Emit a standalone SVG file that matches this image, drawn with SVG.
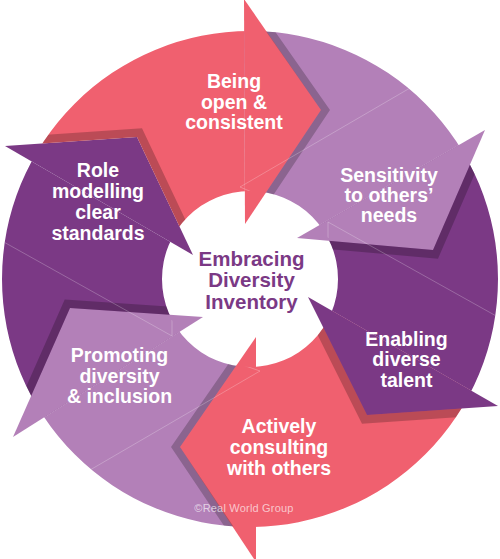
<svg xmlns="http://www.w3.org/2000/svg" width="500" height="559" viewBox="0 0 500 559">
<style>
.red{fill:#f0606f}
.lite{fill:#b380b8}
.dark{fill:#7b3985}
.shd{fill:#000;fill-opacity:.22}
.lbl{font-family:"Liberation Sans",Arial,sans-serif;font-weight:bold;font-size:19.5px;fill:#fff;text-anchor:middle}
.ctr{font-family:"Liberation Sans",Arial,sans-serif;font-weight:bold;font-size:20.5px;fill:#7b3985;text-anchor:middle}
.copy{font-family:"Liberation Sans",Arial,sans-serif;font-size:11px;letter-spacing:.2px;fill:#fff;fill-opacity:.65;text-anchor:middle}
.fold{fill:none;stroke:#fff;stroke-opacity:.3;stroke-width:.8}
</style>
<defs>
<clipPath id="ring">
<path clip-rule="evenodd" d="M2,279a248,248 0 1,0 496,0a248,248 0 1,0 -496,0ZM162,279a88,88 0 1,0 176,0a88,88 0 1,0 -176,0Z"/>
</clipPath>
</defs>
<rect width="500" height="559" fill="#fff"/>

<g id="node-role">
<polygon class="dark" clip-path="url(#ring)" points="203,317 13,437 -150,279 5,146 193,255"/>
<polygon class="dark" points="5,146 137,137 193,255"/>
<text class="lbl" x="98" y="176.7">Role</text>
<text class="lbl" x="98" y="197.8">modelling</text>
<text class="lbl" x="98" y="218.9">clear</text>
<text class="lbl" x="98" y="240">standards</text>
</g>

<g id="node-promoting">
<polygon class="lite" clip-path="url(#ring)" points="256,337 256,560 50,625 13,437 203,317"/>
<polygon class="lite" points="13,437 70,308 203,317"/>
<text class="lbl" x="119.5" y="361.7">Promoting</text>
<text class="lbl" x="119.5" y="382.5">diversity</text>
<text class="lbl" x="119.5" y="403.3">&amp; inclusion</text>
</g>

<g id="node-actively">
<polygon class="red" clip-path="url(#ring)" points="308,297 498,406 450,625 256,560 256,337"/>
<polygon class="red" points="256,562 180,447 256,337"/>
<text class="lbl" x="279" y="432.7">Actively</text>
<text class="lbl" x="279" y="453.8">consulting</text>
<text class="lbl" x="279" y="475">with others</text>
</g>

<g id="node-enabling">
<polygon class="dark" clip-path="url(#ring)" points="297,238 485,130 650,279 498,406 308,297"/>
<polygon class="dark" points="498,406 367,415 308,297"/>
<text class="lbl" x="406.5" y="345.7">Enabling</text>
<text class="lbl" x="406.5" y="366.2">diverse</text>
<text class="lbl" x="406.5" y="386.7">talent</text>
</g>

<g id="node-sensitivity">
<polygon class="lite" clip-path="url(#ring)" points="245,224 244,0 450,-67 485,130 297,238"/>
<polygon class="lite" points="485,130 433,250 297,238"/>
<text class="lbl" x="389" y="181.7">Sensitivity</text>
<text class="lbl" x="389" y="201.7">to others’</text>
<text class="lbl" x="389" y="221.7">needs</text>
</g>

<g id="node-being">
<polygon class="red" clip-path="url(#ring)" points="193,255 137,137 5,146 50,-67 244,0 245,224"/>
<polygon class="red" points="244,-1 321,110 245,224"/>
<text class="lbl" x="234" y="88.3">Being</text>
<text class="lbl" x="234" y="108.8">open &amp;</text>
<text class="lbl" x="234" y="129.3">consistent</text>
</g>

<g id="shadows" clip-path="url(#ring)">
<polygon class="shd" points="244,0 253,0 330,110 254,224 245,224 321,110"/>
<polygon class="shd" points="485,130 490,138.7 438,258.7 302,246.7 297,238 433,250"/>
<polygon class="shd" points="498,406 493,414.7 362,423.7 303,305.7 308,297 367,415"/>
<polygon class="shd" points="256,560 247,560 171,447 247,337 256,337 180,447"/>
<polygon class="shd" points="13,437 7.7,428.5 64.7,299.5 197.7,308.5 203,317 70,308"/>
<polygon class="shd" points="5,146 10,137.3 142,128.3 198,246.3 193,255 137,137"/>
</g>

<g id="folds" clip-path="url(#ring)">
<path class="fold" d="M240,187L410,88M240,187L266,198M328,222L498,317M328,222L328,238M260,371L90,470M260,371L234,362M172,336L2,241M172,336L172,320"/>
</g>

<g id="center">
<text class="ctr" x="251.5" y="265.5">Embracing</text>
<text class="ctr" x="251.5" y="287">Diversity</text>
<text class="ctr" x="251.5" y="308.5">Inventory</text>
</g>

<text class="copy" x="244" y="512">©Real World Group</text>
</svg>
